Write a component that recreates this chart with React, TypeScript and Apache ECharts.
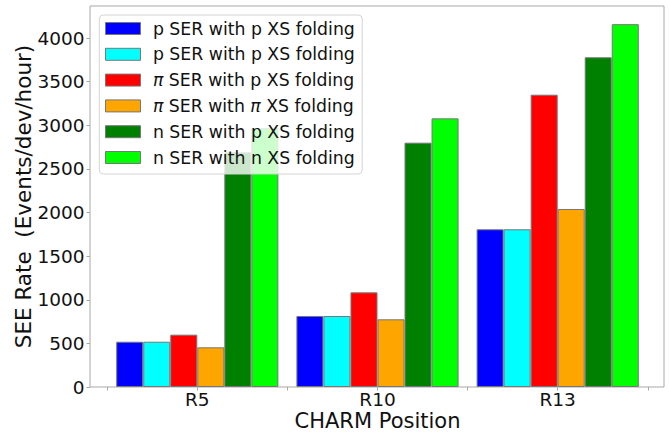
import React, { useEffect, useRef } from "react";
import * as echarts from "echarts";

const categories = ["R5", "R10", "R13"];
const seriesNames = [
  "p SER with p XS folding",
  "p SER with p XS folding ",
  "π SER with p XS folding",
  "π SER with π XS folding",
  "n SER with p XS folding",
  "n SER with n XS folding",
];
const seriesColors = ["#0000ff", "#00ffff", "#ff0000", "#ffa500", "#008000", "#00ff00"];
const pSerPXs = [519, 814, 1808];
const pSerPXs2 = [519, 814, 1808];
const piSerPXs = [600, 1085, 3351];
const piSerPiXs = [455, 776, 2041];
const nSerPXs = [2690, 2801, 3780];
const nSerNXs = [2966, 3080, 4160];
const seriesValues = [pSerPXs, pSerPXs2, piSerPXs, piSerPiXs, nSerPXs, nSerNXs];
const yTicksMax = 4000;
const yTickStep = 500;
const yMax = 4368;

const FONT = "DejaVu Sans";
const TXT = "#111";
const GRAY = "#a8a8a8";

export default function App() {
  const ref = useRef<HTMLDivElement>(null);
  useEffect(() => {
    if (!ref.current) return;
    const chart = echarts.init(ref.current, undefined, { renderer: "svg" });
    const W = 669, H = 434;
    const frameL = 90, frameR = 664, frameT = 6, zeroY = 387;
    const band = 180.2;
    const c0 = 197.3;
    const pxPerUnit = (zeroY - frameT) / yMax;
    const tickTop = zeroY - yTicksMax * pxPerUnit;
    const option: any = {
      animation: false,
      textStyle: { fontFamily: FONT },
      grid: [
        { left: frameL, right: W - frameR, top: frameT, bottom: H - zeroY, show: true, borderColor: GRAY, borderWidth: 1, backgroundColor: "transparent", outerBoundsMode: "none", containLabel: false },
        { left: c0 - band / 2, right: W - (c0 + band * 2.5), top: frameT, bottom: H - zeroY, show: false, outerBoundsMode: "none", containLabel: false },
        { left: frameL, right: W - frameR, top: tickTop, bottom: H - zeroY, show: false, outerBoundsMode: "none", containLabel: false },
      ],
      xAxis: [
        { gridIndex: 0, type: "value", show: false, min: 0, max: 1 },
        {
          gridIndex: 1,
          type: "category",
          data: categories,
          axisLine: { show: false },
          axisTick: { show: true, alignWithLabel: true, length: 3.5, lineStyle: { color: GRAY } },
          axisLabel: { color: TXT, fontSize: 18.5, fontFamily: FONT, margin: 3.5, lineHeight: 18 },
          name: "CHARM Position",
          nameLocation: "middle",
          nameGap: 24,
          nameMoveOverlap: false,
          nameTextStyle: { color: TXT, fontSize: 21, fontFamily: FONT, lineHeight: 20 },
        },
        {
          gridIndex: 1,
          type: "category",
          data: categories,
          position: "bottom",
          axisLine: { show: false },
          axisTick: { show: true, alignWithLabel: false, length: 3.5, lineStyle: { color: GRAY } },
          axisLabel: { show: false },
        },
        { gridIndex: 2, type: "value", show: false, min: 0, max: 1 },
      ],
      yAxis: [
        {
          gridIndex: 0,
          type: "value",
          min: 0,
          max: yMax,
          axisLine: { show: false },
          axisTick: { show: false },
          axisLabel: { show: false },
          splitLine: { show: false },
          name: "SEE Rate  (Events/dev/hour)",
          nameLocation: "middle",
          nameGap: 55.5,
          nameMoveOverlap: false,
          nameTextStyle: { color: TXT, fontSize: 21.5, fontFamily: FONT },
        },
        { gridIndex: 1, type: "value", min: 0, max: yMax, show: false },
        {
          gridIndex: 2,
          type: "value",
          min: 0,
          max: yTicksMax,
          interval: yTickStep,
          axisLine: { show: false },
          axisTick: { show: true, length: 3.5, lineStyle: { color: GRAY } },
          axisLabel: { color: TXT, fontSize: 18.5, fontFamily: FONT, margin: 5.5, formatter: (v: number) => String(v) },
          splitLine: { show: false },
        },
      ],
      legend: {
        orient: "vertical",
        left: 99.3,
        top: 15,
        padding: [4.5, 7.4, 7.5, 5.7],
        itemWidth: 35,
        itemHeight: 12,
        itemGap: 7.8,
        backgroundColor: "rgba(255,255,255,0.8)",
        borderColor: "#d4d4d4",
        borderWidth: 1,
        borderRadius: 4,
        icon: "rect",
        itemStyle: { borderColor: "#777", borderWidth: 1 },
        data: seriesNames,
        formatter: (name: string) => name.trim().replace(/π/g, "{i|π}"),
        textStyle: {
          color: TXT,
          fontSize: 17.3,
          fontFamily: FONT,
          lineHeight: 18,
          padding: [0, 0, 0, 7.4],
          rich: { i: { fontStyle: "italic", fontSize: 17.3, fontFamily: FONT, color: TXT, lineHeight: 18 } },
        },
      },
      series: seriesNames.map((name, i) => ({
        name,
        type: "bar",
        xAxisIndex: 1,
        yAxisIndex: 1,
        data: seriesValues[i],
        barCategoryGap: "10%",
        barGap: "0%",
        itemStyle: { color: seriesColors[i], borderColor: "#777", borderWidth: 1 },
      })),
    };
    chart.setOption(option);
    return () => chart.dispose();
  }, []);
  return <div ref={ref} style={{ position: "absolute", left: 0, top: 0, width: 669, height: 434 }} />;
}
